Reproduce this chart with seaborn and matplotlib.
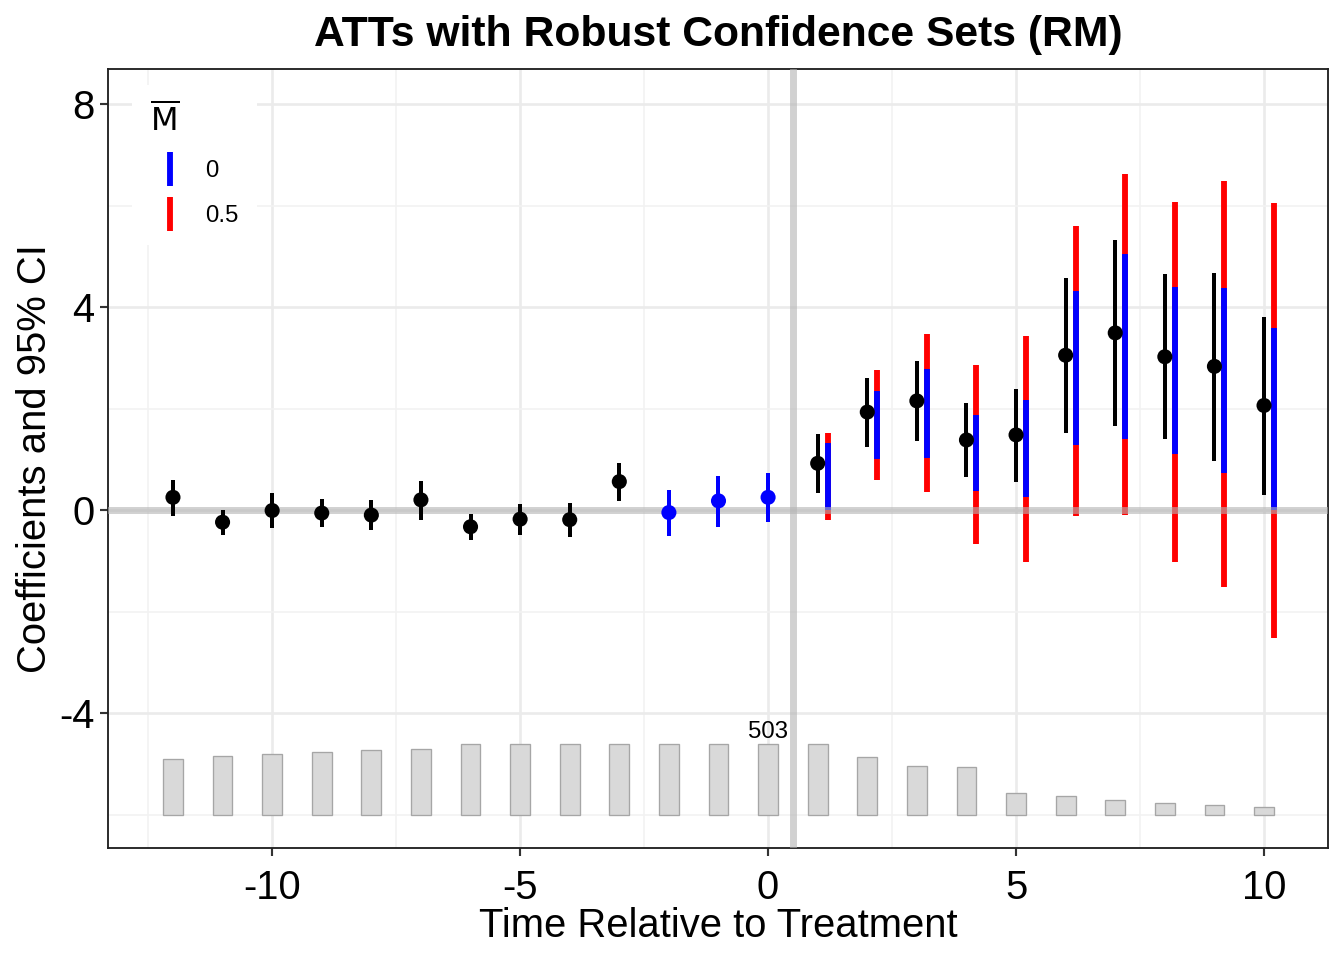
import numpy as np
import pandas as pd
import seaborn as sns
from matplotlib import pyplot as plt
from matplotlib.lines import Line2D

# event-time estimates
times = list(range(-12, 11))
att = [0.25, -0.24, -0.01, -0.06, -0.10, 0.20, -0.33, -0.18, -0.19, 0.56, -0.05, 0.18, 0.25,
       0.92, 1.93, 2.15, 1.38, 1.48, 3.05, 3.49, 3.02, 2.83, 2.06]
ci_low = [-0.11, -0.49, -0.36, -0.34, -0.40, -0.19, -0.60, -0.49, -0.53, 0.18, -0.51, -0.33, -0.24,
          0.33, 1.24, 1.35, 0.65, 0.56, 1.52, 1.65, 1.39, 0.97, 0.30]
ci_high = [0.59, 0.01, 0.33, 0.21, 0.20, 0.58, -0.08, 0.12, 0.13, 0.93, 0.40, 0.68, 0.73,
           1.50, 2.60, 2.93, 2.10, 2.38, 4.58, 5.33, 4.65, 4.68, 3.80]

# robust confidence sets, post periods 1..10
post_times = list(range(1, 11))
rob0_low = [0.00, 1.00, 1.02, 0.37, 0.26, 1.28, 1.40, 1.10, 0.73, 0.01]
rob0_high = [1.32, 2.34, 2.77, 1.87, 2.17, 4.32, 5.05, 4.40, 4.38, 3.58]
rob05_low = [-0.20, 0.60, 0.35, -0.66, -1.02, -0.12, -0.10, -1.02, -1.51, -2.53]
rob05_high = [1.51, 2.75, 3.46, 2.86, 3.42, 5.60, 6.63, 6.07, 6.48, 6.05]

# number of observations per event time
counts = [397, 416, 435, 449, 463, 468, 503, 503, 503, 503, 503, 503, 503, 503,
          411, 344, 339, 150, 132, 106, 83, 68, 52]
label_time = 0


def main():
    sns.set_theme(style="whitegrid")
    plt.rcParams["font.family"] = ["Liberation Sans", "DejaVu Sans"]
    plt.rcParams["text.color"] = "black"
    plt.rcParams["axes.labelcolor"] = "black"

    df = pd.DataFrame({"t": times, "att": att, "lo": ci_low, "hi": ci_high, "n": counts})
    df["grp"] = np.where((df.t >= -2) & (df.t <= 0), "ref", "other")
    rob = pd.DataFrame({"t": post_times, "lo0": rob0_low, "hi0": rob0_high,
                        "lo5": rob05_low, "hi5": rob05_high})

    fig, ax = plt.subplots(figsize=(7, 5), dpi=192)
    fig.subplots_adjust(left=108 / 1344, right=1328 / 1344, top=1 - 69 / 960, bottom=1 - 848 / 960)

    # count bars along the bottom
    base = -6.0
    scale = 1.39 / max(counts)
    ax.bar(df.t, df.n * scale, bottom=base, width=0.4, color="#d9d9d9",
           edgecolor="#a6a6a6", linewidth=0.5, zorder=2)
    n_lab = df.loc[df.t == label_time, "n"].iloc[0]
    ax.text(label_time, base + n_lab * scale + 0.24, str(n_lab),
            ha="center", va="center", fontsize=9)

    # robust sets, shifted right
    ax.vlines(rob.t + 0.2, rob.lo5, rob.hi5, color="red", lw=2.2, zorder=4)
    ax.vlines(rob.t + 0.2, rob.lo0, rob.hi0, color="blue", lw=2.2, zorder=5)

    ax.axhline(0, color="#b3b3b3", lw=2.6, alpha=0.6, zorder=5.5)
    ax.axvline(0.5, color="#b3b3b3", lw=2.6, alpha=0.6, zorder=5.5)

    # point estimates
    colors = {"ref": "blue", "other": "black"}
    for g, d in df.groupby("grp"):
        ax.vlines(d.t, d.lo, d.hi, color=colors[g], lw=1.5, zorder=6)
    sns.scatterplot(data=df, x="t", y="att", hue="grp", palette=colors, s=32,
                    edgecolor="none", legend=False, ax=ax, zorder=7)

    ax.set_xlim(-13.31, 11.29)
    ax.set_ylim(-6.66, 8.69)
    ax.set_xticks([-10, -5, 0, 5, 10])
    ax.set_yticks([-4, 0, 4, 8])
    ax.set_xticks([-12.5, -7.5, -2.5, 2.5, 7.5], minor=True)
    ax.set_yticks([-6, -2, 2, 6], minor=True)
    ax.set_xticklabels(["-10", "-5", "0", "5", "10"])
    ax.set_yticklabels(["-4", "0", "4", "8"])
    ax.grid(which="major", color="#ebebeb", lw=1.0)
    ax.grid(which="minor", color="#f2f2f2", lw=0.6)
    ax.tick_params(axis="both", which="major", labelsize=15, length=3, width=0.8,
                   color="#333333", labelcolor="black", pad=2, bottom=True, left=True)
    ax.tick_params(axis="x", which="major", pad=5)
    ax.tick_params(which="minor", length=0)
    for sp in ax.spines.values():
        sp.set_color("#222222")
        sp.set_linewidth(0.7)

    ax.set_xlabel("Time Relative to Treatment", fontsize=15, labelpad=0)
    ax.set_ylabel("Coefficients and 95% CI", fontsize=15, labelpad=2)
    ax.set_title("ATTs with Robust Confidence Sets (RM)", fontsize=16, fontweight="bold", pad=8.5)

    handles = [Line2D([], [], color="blue", marker="|", ls="none", markersize=13, markeredgewidth=2.2),
               Line2D([], [], color="red", marker="|", ls="none", markersize=13, markeredgewidth=2.2)]
    leg = ax.legend(handles, ["0", "0.5"], title=r"$\overline{\mathrm{M}}$", loc="upper left",
                    bbox_to_anchor=(0.02, 0.98), borderaxespad=0, fontsize=9, title_fontsize=12,
                    frameon=True, facecolor="white", edgecolor="none", framealpha=1,
                    labelspacing=0.95, handlelength=1.6, handletextpad=0.7, borderpad=0.75,
                    alignment="left")
    leg.set_zorder(10)

    fig.savefig("out.png", dpi=192)


if __name__ == "__main__":
    main()
